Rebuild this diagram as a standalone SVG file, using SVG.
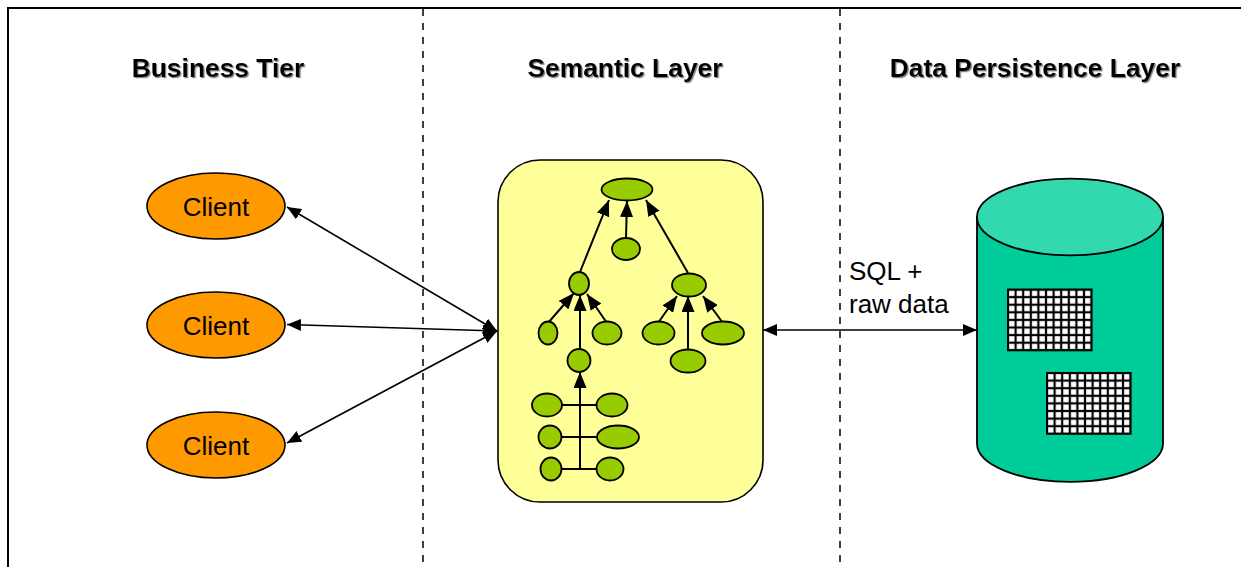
<svg xmlns="http://www.w3.org/2000/svg" width="1241" height="567" viewBox="0 0 1241 567">
<style>
.title{font-family:"Liberation Sans",Arial,sans-serif;font-weight:bold;font-size:26.4px;fill:#000;text-anchor:middle;filter:url(#shadow)}
.lbl{font-family:"Liberation Sans",Arial,sans-serif;font-size:26px;fill:#000}
.client{fill:#FF9900;stroke:#000;stroke-width:1.6}
.tn{fill:#99CC00;stroke:#000;stroke-width:1.8}
.edge{stroke:#000;stroke-width:2;fill:none}
.link{stroke:#000;stroke-width:1.6;fill:none}
.sep{stroke:#000;stroke-width:1.5;stroke-dasharray:7 7;fill:none}
</style>
<defs>
<filter id="shadow" x="-10%" y="-30%" width="120%" height="160%">
<feDropShadow dx="1.2" dy="1.2" stdDeviation="0.6" flood-color="#777" flood-opacity="0.9"/>
</filter>
<marker id="ah" viewBox="0 0 16 13" refX="16" refY="6.5" markerWidth="16" markerHeight="13" markerUnits="userSpaceOnUse" orient="auto-start-reverse">
<path d="M0,0 L16,6.5 L0,13 z" fill="#000"/>
</marker>
<marker id="ah2" viewBox="0 0 14 12" refX="14" refY="6" markerWidth="14" markerHeight="12" markerUnits="userSpaceOnUse" orient="auto-start-reverse">
<path d="M0,0 L14,6 L0,12 z" fill="#000"/>
</marker>
<pattern id="grid" x="0" y="0" width="7.6" height="7.6" patternUnits="userSpaceOnUse">
<rect width="7.6" height="7.6" fill="#000"/>
<rect x="1.1" y="1.1" width="5.4" height="5.4" fill="#fff"/>
</pattern>
</defs>
<rect width="1241" height="567" fill="#fff"/>

<g id="frame">
<path d="M8,567 L8,8 L1241,8" fill="none" stroke="#000" stroke-width="2"/>
<line class="sep" x1="423" y1="9" x2="423" y2="567"/>
<line class="sep" x1="840" y1="9" x2="840" y2="567"/>
</g>

<g id="titles">
<text class="title" x="218" y="77">Business Tier</text>
<text class="title" x="625" y="77">Semantic Layer</text>
<text class="title" x="1035" y="77">Data Persistence Layer</text>
</g>

<g id="client1">
<ellipse class="client" cx="216" cy="206" rx="69" ry="33"/>
<text class="lbl" x="216" y="215.5" text-anchor="middle">Client</text>
</g>
<g id="client2">
<ellipse class="client" cx="216" cy="325" rx="69" ry="33"/>
<text class="lbl" x="216" y="334.5" text-anchor="middle">Client</text>
</g>
<g id="client3">
<ellipse class="client" cx="216" cy="445" rx="69" ry="33"/>
<text class="lbl" x="216" y="454.5" text-anchor="middle">Client</text>
</g>

<g id="semantic-layer">
<rect x="498" y="160" width="265" height="342" rx="42" ry="42" fill="#FFFF99" stroke="#000" stroke-width="1.6"/>
<g id="tree-edges">
<line class="edge" x1="580" y1="272" x2="609" y2="200" marker-end="url(#ah)"/>
<line class="edge" x1="626" y1="238" x2="627" y2="201" marker-end="url(#ah)"/>
<line class="edge" x1="688" y1="273" x2="646" y2="200" marker-end="url(#ah)"/>
<line class="edge" x1="548" y1="323" x2="574" y2="293" marker-end="url(#ah)"/>
<line class="edge" x1="580" y1="349" x2="580" y2="295" marker-end="url(#ah)"/>
<line class="edge" x1="607" y1="323" x2="587" y2="294" marker-end="url(#ah)"/>
<line class="edge" x1="658" y1="323" x2="677" y2="296" marker-end="url(#ah)"/>
<line class="edge" x1="688" y1="350" x2="688" y2="296" marker-end="url(#ah)"/>
<line class="edge" x1="723" y1="323" x2="703" y2="296" marker-end="url(#ah)"/>
<line class="edge" x1="580" y1="469" x2="580" y2="372" marker-end="url(#ah)"/>
<line class="edge" x1="561" y1="405" x2="597" y2="405"/>
<line class="edge" x1="561" y1="437" x2="597" y2="437"/>
<line class="edge" x1="561" y1="469" x2="597" y2="469"/>
</g>
<g id="tree-nodes">
<ellipse class="tn" cx="627" cy="189.5" rx="25.5" ry="11"/>
<ellipse class="tn" cx="626" cy="249" rx="14" ry="11"/>
<ellipse class="tn" cx="579" cy="283.5" rx="10" ry="11.5"/>
<ellipse class="tn" cx="689" cy="285" rx="17" ry="11.5"/>
<ellipse class="tn" cx="548" cy="333" rx="9.5" ry="11.5"/>
<ellipse class="tn" cx="607" cy="333" rx="14.5" ry="11.5"/>
<ellipse class="tn" cx="579" cy="360.5" rx="11.5" ry="11.5"/>
<ellipse class="tn" cx="658.5" cy="333" rx="16" ry="11.5"/>
<ellipse class="tn" cx="723" cy="333" rx="21" ry="11.5"/>
<ellipse class="tn" cx="688" cy="361" rx="17.5" ry="11.5"/>
<ellipse class="tn" cx="547" cy="405" rx="15" ry="11.5"/>
<ellipse class="tn" cx="612" cy="405" rx="15.5" ry="11.5"/>
<ellipse class="tn" cx="550" cy="437" rx="11.5" ry="11.5"/>
<ellipse class="tn" cx="618" cy="437" rx="21" ry="11.5"/>
<ellipse class="tn" cx="551" cy="469" rx="10.5" ry="11.5"/>
<ellipse class="tn" cx="610" cy="469" rx="13.5" ry="11.5"/>
</g>
</g>

<g id="database">
<path d="M977,217 L977,443.5 A93,38.3 0 0 0 1163,443.5 L1163,217 Z" fill="#00CC99" stroke="#000" stroke-width="1.8"/>
<ellipse cx="1070" cy="217" rx="93" ry="38.3" fill="#33D9AE" stroke="#000" stroke-width="1.8"/>
<g id="table1" transform="translate(1008,289.5)">
<rect x="0" y="0" width="83.6" height="60.8" fill="url(#grid)" stroke="#000" stroke-width="2"/>
</g>
<g id="table2" transform="translate(1047,373)">
<rect x="0" y="0" width="83.6" height="60.8" fill="url(#grid)" stroke="#000" stroke-width="2"/>
</g>
</g>

<g id="connectors">
<line class="link" x1="497" y1="331" x2="287" y2="207" marker-start="url(#ah2)" marker-end="url(#ah2)"/>
<line class="link" x1="497" y1="331" x2="287" y2="324.5" marker-start="url(#ah2)" marker-end="url(#ah2)"/>
<line class="link" x1="497" y1="331" x2="287" y2="443" marker-start="url(#ah2)" marker-end="url(#ah2)"/>
<line class="link" x1="763" y1="330" x2="977" y2="330" marker-start="url(#ah2)" marker-end="url(#ah2)"/>
<text class="lbl" x="849" y="280">SQL +</text>
<text class="lbl" x="849" y="313">raw data</text>
</g>
</svg>
